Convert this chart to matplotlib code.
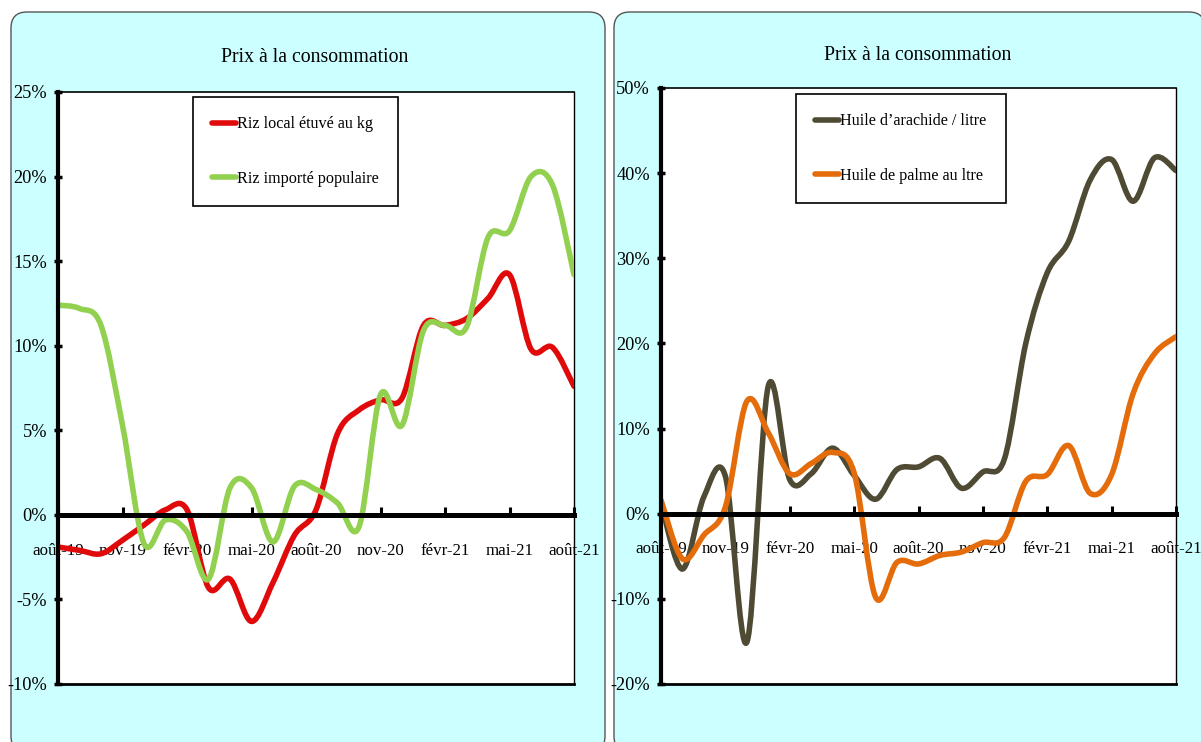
import numpy as np
import matplotlib
matplotlib.use("Agg")
import matplotlib.pyplot as plt
from matplotlib.path import Path
from matplotlib.patches import PathPatch, FancyBboxPatch
from matplotlib.lines import Line2D

plt.rcParams['font.family'] = ['Liberation Serif', 'DejaVu Serif']

# monthly values, août-19 .. août-21 (25 points)
tick_labels = ["août-19", "nov-19", "févr-20", "mai-20", "août-20",
               "nov-20", "févr-21", "mai-21", "août-21"]

riz_local = [-1.9, -2.1, -2.3, -1.5, -0.6, 0.3, 0.3, -4.3, -3.8, -6.3,
             -4.0, -1.2, 0.3, 4.8, 6.2, 6.8, 6.9, 11.2, 11.2, 11.6,
             12.8, 14.2, 9.8, 9.9, 7.6]
riz_importe = [12.4, 12.2, 11.2, 5.3, -1.7, -0.3, -1.0, -3.8, 1.6, 1.6,
               -1.6, 1.7, 1.5, 0.7, -0.7, 7.1, 5.3, 10.9, 11.2, 11.1,
               16.4, 16.8, 20.0, 19.5, 14.2]

huile_arachide = [1.3, -6.5, 2.0, 4.4, -15.1, 15.0, 4.0, 4.7, 7.7, 4.5,
                  1.7, 5.2, 5.5, 6.5, 3.0, 4.9, 6.4, 20.0, 28.3, 32.0,
                  39.2, 41.6, 36.7, 41.8, 40.3]
huile_palme = [1.6, -5.3, -2.5, 0.8, 13.2, 9.5, 4.7, 5.9, 7.2, 4.8,
               -9.8, -5.7, -5.9, -4.9, -4.5, -3.4, -2.8, 3.8, 4.6, 8.0,
               2.4, 4.6, 14.1, 18.8, 20.8]

c_red = "#E00A0A"
c_green = "#92D050"
c_olive = "#4F4A33"
c_orange = "#E46C0A"


def smooth_path(y):
    # Excel-like smoothed line: cubic bezier through each monthly point
    x = np.arange(len(y), dtype=float)
    pts = np.column_stack([x, np.array(y, dtype=float)])
    n = len(pts)
    verts = [pts[0]]
    codes = [Path.MOVETO]
    for i in range(n - 1):
        p0 = pts[max(i - 1, 0)]
        p1 = pts[i]
        p2 = pts[i + 1]
        p3 = pts[min(i + 2, n - 1)]
        verts += [p1 + (p2 - p0) / 6, p2 - (p3 - p1) / 6, p2]
        codes += [Path.CURVE4] * 3
    return Path(verts, codes)


def draw_chart(ax, series, colors, labels, ylim, ystep, legend_pos):
    ax.set_facecolor("white")
    for y, c in zip(series, colors):
        ax.add_patch(PathPatch(smooth_path(y), fill=False, edgecolor=c,
                               lw=4.0, capstyle="round", joinstyle="round",
                               zorder=3))

    # spine position first: it resets the x ticks
    ax.spines["bottom"].set_position(("data", 0))
    ax.spines["bottom"].set_linewidth(3.6)
    ax.spines["bottom"].set_zorder(4)
    ax.spines["left"].set_linewidth(3.0)
    ax.spines["left"].set_zorder(4)
    ax.spines["top"].set_linewidth(1.2)
    ax.spines["right"].set_linewidth(1.0)
    ax.plot([0, 1], [0, 0], transform=ax.transAxes, color="black",
            lw=2.0, clip_on=False, zorder=4)

    ax.set_xlim(0, 24)
    ax.set_ylim(*ylim)
    yt = np.arange(ylim[0], ylim[1] + 0.1, ystep)
    ax.set_yticks(yt)
    ax.set_yticklabels(["%d%%" % v for v in yt])
    ax.set_xticks(np.arange(0, 25, 3))
    ax.set_xticklabels(tick_labels)

    ax.tick_params(axis="x", direction="in", length=6, width=2.2,
                   pad=20, color="black", labelsize=12.2)
    ax.tick_params(axis="y", direction="inout", length=6, width=2.5,
                   pad=5, labelsize=13.2)

    handles = [Line2D([], [], color=c, lw=4.0, solid_capstyle="round")
               for c in colors]
    leg = ax.legend(handles, labels, loc="upper left",
                    bbox_to_anchor=legend_pos, bbox_transform=fig.transFigure,
                    fontsize=11.6, frameon=True, fancybox=False,
                    edgecolor="black", framealpha=1, borderpad=1.2,
                    labelspacing=2.4, handlelength=1.45, handletextpad=0.1,
                    borderaxespad=0)
    leg.get_frame().set_linewidth(1.2)
    leg.set_zorder(5)


fig = plt.figure(figsize=(12.01, 7.42), dpi=100)
fig.patch.set_facecolor("white")

H = 7.42
for x0, x1 in [(0.11, 6.05), (6.14, 12.05)]:
    panel = FancyBboxPatch((x0, -0.1), x1 - x0, (H - 0.10) - (-0.1) - 0.02,
                           boxstyle="round,pad=0,rounding_size=0.16",
                           transform=fig.dpi_scale_trans,
                           facecolor="#CCFFFF", edgecolor="#555555",
                           lw=1.0, zorder=-5)
    fig.patches.append(panel)

ax1 = fig.add_axes([58 / 1201, 1 - 684 / 742, (574 - 58) / 1201,
                    (684 - 92) / 742])
ax2 = fig.add_axes([661 / 1201, 1 - 684 / 742, (1176 - 661) / 1201,
                    (684 - 88) / 742])

draw_chart(ax1, [riz_local, riz_importe], [c_red, c_green],
           ["Riz local étuvé au kg", "Riz importé populaire"],
           (-10, 25), 5, (193 / 1201, 1 - 97 / 742))
draw_chart(ax2, [huile_arachide, huile_palme], [c_olive, c_orange],
           ["Huile d\u2019arachide / litre", "Huile de palme au ltre"],
           (-20, 50), 10, (796 / 1201, 1 - 94 / 742))

fig.text(315 / 1201, 1 - 58 / 742, "Prix à la consommation", fontsize=14.2,
         ha="center", va="center")
fig.text(918 / 1201, 1 - 55 / 742, "Prix à la consommation", fontsize=14.2,
         ha="center", va="center")

fig.savefig("out.png", dpi=100)
